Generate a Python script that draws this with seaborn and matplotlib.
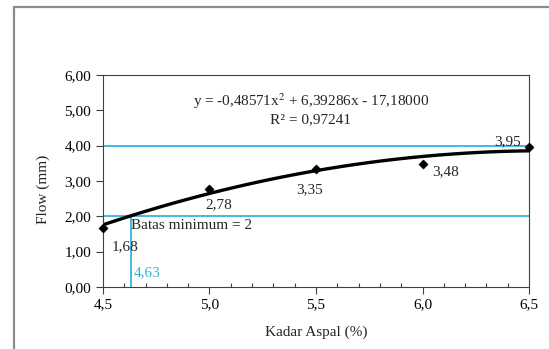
import numpy as np
import pandas as pd
import matplotlib.pyplot as plt
import seaborn as sns
from matplotlib.patches import Rectangle
from matplotlib.ticker import MultipleLocator

# data
kadar_aspal = [4.5, 5.0, 5.5, 6.0, 6.5]
flow = [1.68, 2.78, 3.35, 3.48, 3.95]
point_labels = ["1,68", "2,78", "3,35", "3,48", "3,95"]
batas_atas = 4.0
batas_min = 2.0
kadar_min = 4.63

df = pd.DataFrame({"Kadar Aspal (%)": kadar_aspal, "Flow (mm)": flow})

sns.set_style("ticks")
plt.rcParams["font.family"] = ["Liberation Serif", "DejaVu Serif"]
plt.rcParams["mathtext.fontset"] = "stix"

blue = "#35b3e0"
fs = 11

fig = plt.figure(figsize=(5.49, 3.49), dpi=100)
ax = fig.add_axes([0.1876, 0.178, 0.776, 0.607])

# outer chart frame
fig.patches.append(Rectangle((0.0255, -0.05), 1.2, 1.03, transform=fig.transFigure,
                             fill=False, edgecolor="#8c8c8c", linewidth=1.6))

# limit lines
ax.axhline(batas_atas, color=blue, linewidth=1.3, zorder=1)
ax.axhline(batas_min, color=blue, linewidth=1.3, zorder=1)
ax.plot([kadar_min, kadar_min], [0, batas_min], color=blue, linewidth=1.3, zorder=1)

# polynomial trendline (order 2) + points
sns.regplot(data=df, x="Kadar Aspal (%)", y="Flow (mm)", order=2, ci=None,
            scatter=False, line_kws={"color": "black", "linewidth": 2.4}, ax=ax)
sns.scatterplot(data=df, x="Kadar Aspal (%)", y="Flow (mm)", marker="D",
                color="black", s=22, edgecolor="black", zorder=5, clip_on=False, ax=ax)

# point labels
offsets = [(0.105, -0.55), (0.045, -0.44), (-0.028, -0.59), (0.106, -0.21), (-0.10, 0.16)]
for xv, yv, lab, (dx, dy) in zip(kadar_aspal, flow, point_labels, offsets):
    ax.text(xv + dx, yv + dy, lab, fontsize=fs, ha="center", va="center")

ax.text(4.63, 1.73, "Batas minimum = 2", fontsize=fs, ha="left", va="center")
ax.text(4.645, 0.4, "4,63", fontsize=fs, color=blue, ha="left", va="center")

ax.text(5.476, 5.27, "y = -0,48571x$^2$ + 6,39286x - 17,18000", fontsize=fs,
        ha="center", va="center")
ax.text(5.476, 4.73, "R² = 0,97241", fontsize=fs, ha="center", va="center")

ax.set_xlim(4.5, 6.5)
ax.set_ylim(0, 6)
ax.xaxis.set_major_locator(MultipleLocator(0.5))
ax.xaxis.set_minor_locator(MultipleLocator(0.1))
ax.yaxis.set_major_locator(MultipleLocator(1))
ax.set_xticklabels([f"{v:.1f}".replace(".", ",") for v in ax.get_xticks()])
ax.set_yticklabels([f"{v:.2f}".replace(".", ",") for v in ax.get_yticks()])
ax.tick_params(axis="both", which="major", direction="out", length=5, width=0.8,
               colors="#404040", labelsize=fs, labelcolor="black")
ax.tick_params(axis="x", which="minor", direction="in", length=3, width=0.8, colors="#404040")
for s in ax.spines.values():
    s.set_color("#404040")
    s.set_linewidth(0.8)

ax.set_xlabel("Kadar Aspal (%)", fontsize=fs, labelpad=10)
ax.set_ylabel("Flow (mm)", fontsize=fs)
ax.yaxis.set_label_coords(-0.125, 0.46)

fig.savefig("out.png", dpi=100)
